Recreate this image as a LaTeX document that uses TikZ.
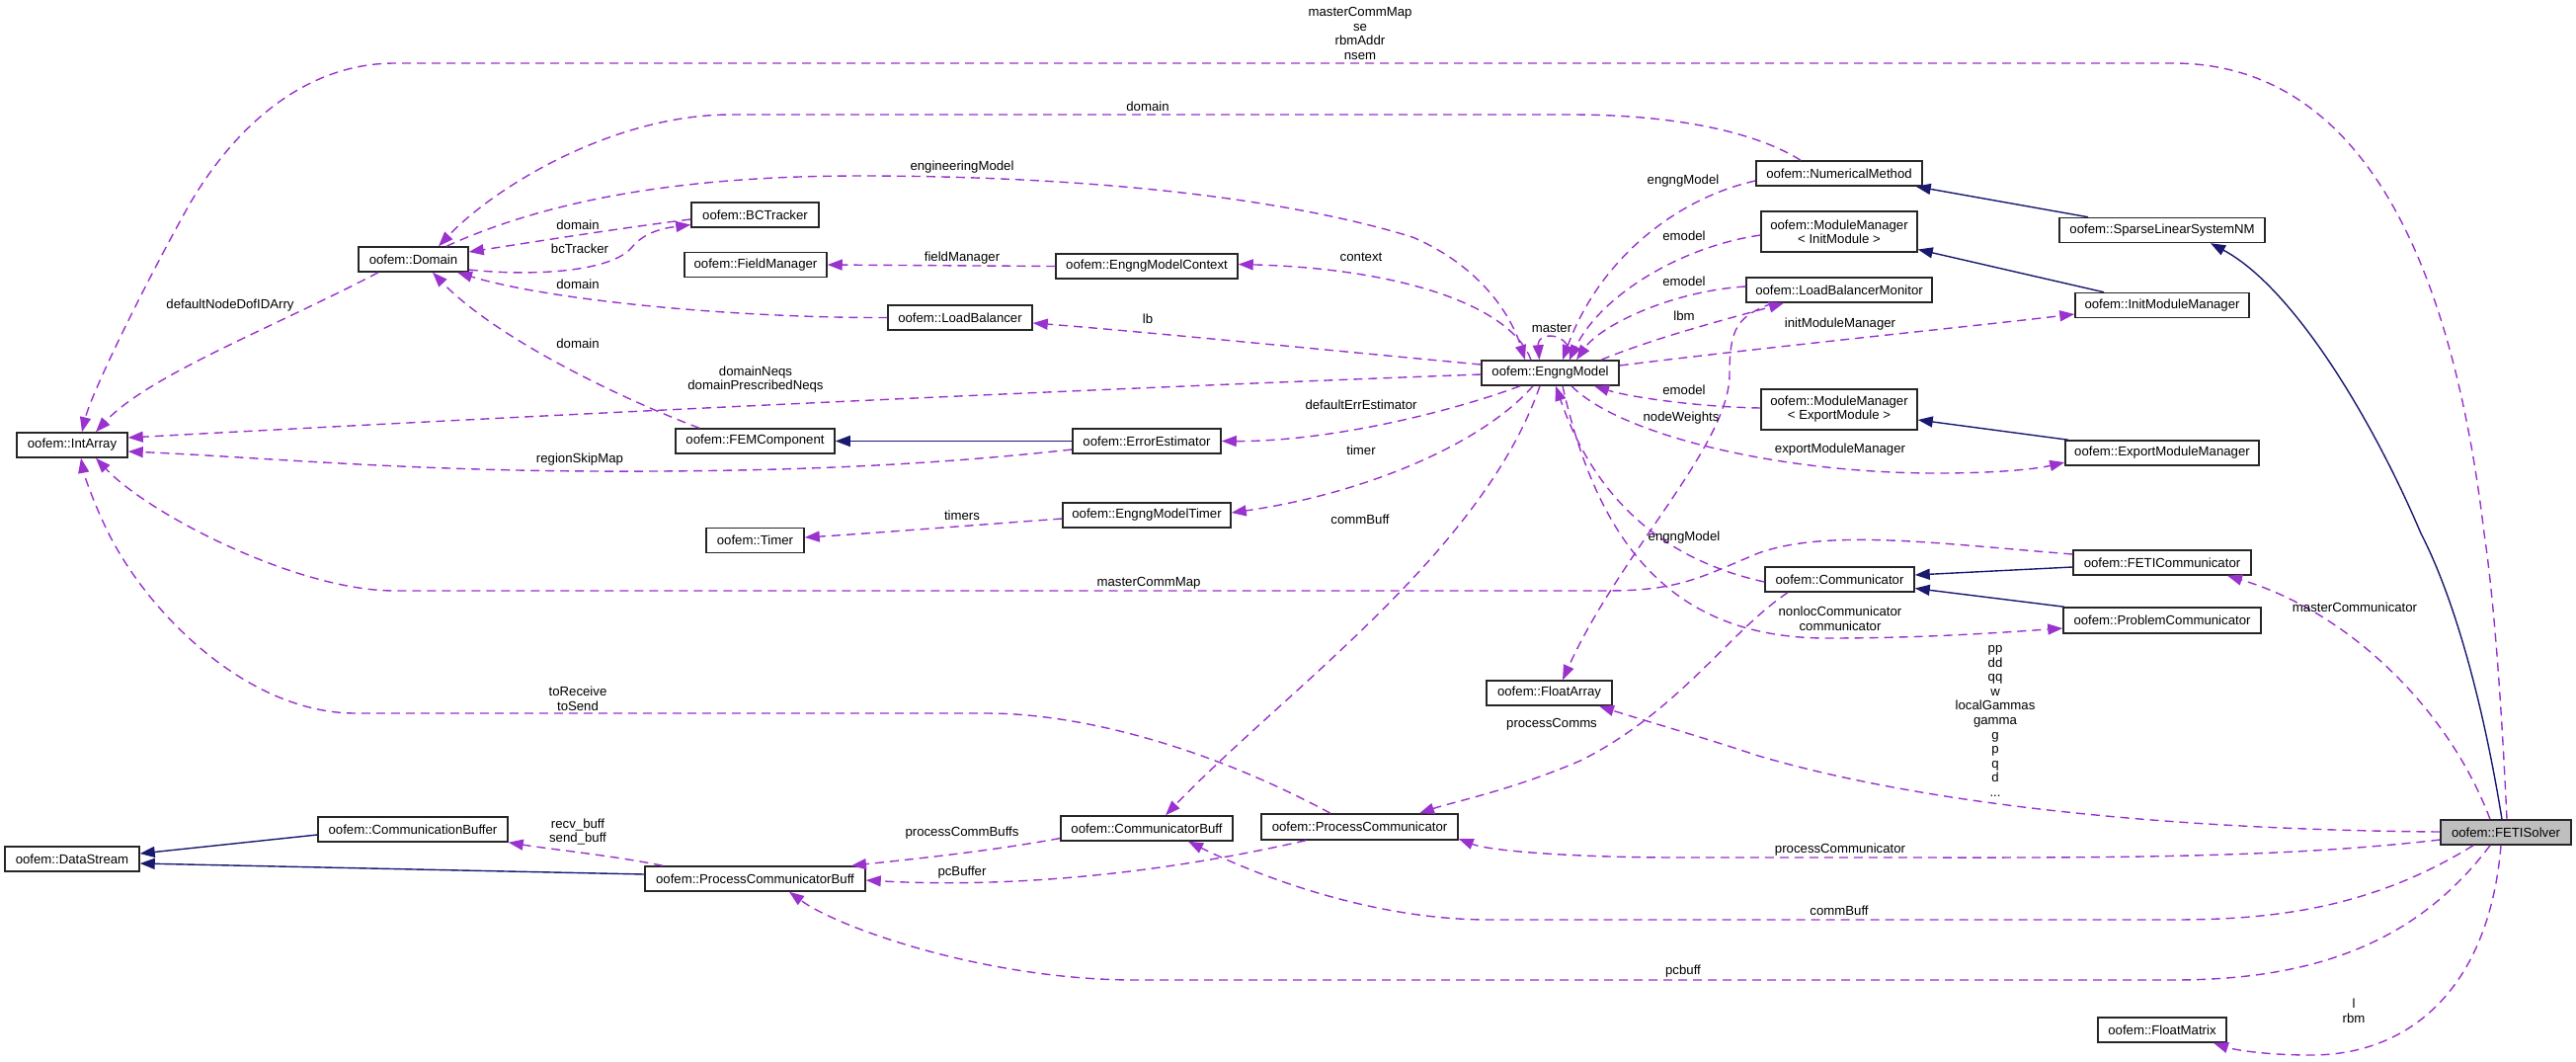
\documentclass[tikz,border=0pt]{standalone}
\usepackage{fontspec}
\setmainfont{Liberation Sans}
\usetikzlibrary{arrows.meta,calc}
\definecolor{depcol}{HTML}{9A32CD}
\definecolor{inhcol}{HTML}{191970}
\begin{document}
\begin{tikzpicture}[x=1pt,y=-1pt,
 cls/.style={draw=black!85,line width=1.5pt,fill=white,font=\fontsize{13.2}{14}\selectfont,inner sep=0pt,minimum height=25pt,align=center},
 lbl/.style={font=\fontsize{13.2}{14.6}\selectfont,inner sep=0pt,align=center},
 use/.style={draw=depcol,line width=1.4pt,dash pattern=on 9pt off 6pt,-{Triangle[length=15pt,width=11pt,fill=depcol]}},
 inhe/.style={draw=inhcol,line width=1.4pt,-{Triangle[length=15pt,width=11pt,fill=inhcol]}}]
\useasboundingbox (0,0) rectangle (2608,1074);

% ---- classes
\node[cls,minimum width=112pt] (IntArray) at (73,450.5) {oofem::IntArray};
\node[cls,minimum width=111pt] (Domain) at (418.5,262.5) {oofem::Domain};
\node[cls,minimum width=129pt] (BCTracker) at (764.5,217.5) {oofem::BCTracker};
\node[cls,minimum width=144pt] (FieldManager) at (765,268) {oofem::FieldManager};
\node[cls,minimum width=161pt] (FEMComponent) at (764.5,446.5) {oofem::FEMComponent};
\node[cls,minimum width=99pt] (Timer) at (764.5,547) {oofem::Timer};
\node[cls,minimum width=184pt] (EMContext) at (1161,269.5) {oofem::EngngModelContext};
\node[cls,minimum width=146pt] (LoadBalancer) at (972,321.5) {oofem::LoadBalancer};
\node[cls,minimum width=139pt] (EngngModel) at (1569.5,377.5) {oofem::EngngModel};
\node[cls,minimum width=150pt] (ErrEst) at (1161,446.5) {oofem::ErrorEstimator};
\node[cls,minimum width=170pt] (EMTimer) at (1161,521.5) {oofem::EngngModelTimer};
\node[cls,minimum width=168pt] (NumMethod) at (1862,175.5) {oofem::NumericalMethod};
\node[cls,minimum width=158pt,minimum height=41pt] (MMInit) at (1862,234.5) {oofem::ModuleManager\\{}< InitModule >};
\node[cls,minimum width=188pt] (LBM) at (1862,293.5) {oofem::LoadBalancerMonitor};
\node[cls,minimum width=208pt] (SLSNM) at (2189,233) {oofem::SparseLinearSystemNM};
\node[cls,minimum width=176pt] (IMM) at (2189,309) {oofem::InitModuleManager};
\node[cls,minimum width=158pt,minimum height=41pt] (MMExport) at (1862,414.5) {oofem::ModuleManager\\{}< ExportModule >};
\node[cls,minimum width=196pt] (EMM) at (2189,458.5) {oofem::ExportModuleManager};
\node[cls,minimum width=192pt] (CommBuffer) at (418,839.5) {oofem::CommunicationBuffer};
\node[cls,minimum width=136pt] (DataStream) at (73,869.5) {oofem::DataStream};
\node[cls,minimum width=223pt] (PCB) at (764.5,889.5) {oofem::ProcessCommunicatorBuff};
\node[cls,minimum width=127pt] (FloatArray) at (1568.5,701.5) {oofem::FloatArray};
\node[cls,minimum width=174pt] (CommBuff) at (1161,838.5) {oofem::CommunicatorBuff};
\node[cls,minimum width=199pt,minimum height=26pt] (ProcComm) at (1376.5,837) {oofem::ProcessCommunicator};
\node[cls,minimum width=180pt] (FETIComm) at (2189,569.5) {oofem::FETICommunicator};
\node[cls,minimum width=151pt] (Comm) at (1862.5,586.5) {oofem::Communicator};
\node[cls,minimum width=200pt,minimum height=26pt] (ProbComm) at (2189,628) {oofem::ProblemCommunicator};
\node[cls,minimum width=132pt,fill=black!25] (FETISolver) at (2537,842.5) {oofem::FETISolver};
\node[cls,minimum width=130pt] (FloatMatrix) at (2189,1042.5) {oofem::FloatMatrix};

% ---- inheritance
\draw[inhe] ($(FETISolver.north)+(-4,0)$) .. controls (2512,700) and (2482,600) .. (2451,540) .. controls (2400,420) and (2320,290) .. ($(SLSNM.south)+(49,0)$);
\draw[inhe] ($(SLSNM.north)+(-75,0)$) -- ($(NumMethod.south east)+(-7,0)$);
\draw[inhe] ($(IMM.north)+(-59,0)$) -- ($(MMInit.east)+(0,18)$);
\draw[inhe] ($(EMM.north)+(-95,0)$) -- ($(MMExport.east)+(0,10.5)$);
\draw[inhe] ($(FETIComm.west)+(0,4.5)$) -- ($(Comm.east)+(0,-4.5)$);
\draw[inhe] ($(ProbComm.north)+(-99,0)$) -- ($(Comm.east)+(0,9)$);
\draw[inhe] (ErrEst.west) -- (FEMComponent.east);
\draw[inhe] ($(CommBuffer.west)+(0,5.5)$) -- ($(DataStream.east)+(0,-5.5)$);
\draw[inhe] ($(PCB.west)+(0,-4.5)$) -- ($(DataStream.east)+(0,4.5)$);

% ---- usage
% masterCommMap se rbmAddr nsem
\draw[use] ($(FETISolver.north)+(1,0)$) .. controls (2532,700) and (2524,600) .. (2515,540) .. controls (2490,330) and (2420,64) .. (2200,64) -- (400,64) .. controls (300,64) and (230,140) .. (190,210) .. controls (140,300) and (92,400) .. ($(IntArray.north)+(10,0)$);
% domain (NumericalMethod)
\draw[use] ($(NumMethod.north)+(-39,0)$) .. controls (1780,135) and (1700,116) .. (1590,116) -- (740,116) .. controls (620,116) and (500,190) .. ($(Domain.north)+(25.5,0)$);
% engineeringModel
\draw[use] ($(Domain.north)+(33.5,0)$) .. controls (560,200) and (700,178) .. (870,178) .. controls (1100,178) and (1300,200) .. (1430,240) .. controls (1500,270) and (1530,320) .. ($(EngngModel.north)+(-25.5,0)$);
% engngModel (NumericalMethod)
\draw[use] ($(NumMethod.west)+(0,7.5)$) .. controls (1700,200) and (1620,260) .. ($(EngngModel.north)+(12.5,0)$);
% emodel (MMInit)
\draw[use] ($(MMInit.west)+(0,3.5)$) .. controls (1700,250) and (1620,300) .. ($(EngngModel.north)+(19.5,0)$);
% emodel (LBM)
\draw[use] ($(LBM.west)+(0,-3.5)$) .. controls (1690,295) and (1620,330) .. ($(EngngModel.north)+(26.5,0)$);
% lbm
\draw[use] ($(EngngModel.north)+(51.5,0)$) .. controls (1680,340) and (1760,320) .. ($(LBM.south)+(-56,0)$);
% initModuleManager
\draw[use] ($(EngngModel.east)+(0,-7.5)$) .. controls (1800,350) and (2000,330) .. ($(IMM.west)+(0,9)$);
% emodel (MMExport)
\draw[use] ($(MMExport.west)+(0,-1.5)$) .. controls (1720,412) and (1650,402) .. ($(EngngModel.south)+(44.5,0)$);
% exportModuleManager
\draw[use] ($(EngngModel.south)+(21.5,0)$) .. controls (1640,440) and (1800,479) .. (1961,479) .. controls (2020,479) and (2060,475) .. ($(EMM.west)+(0,9.5)$);
% nodeWeights
\draw[use] ($(LBM.south)+(-67,0)$) .. controls (1760,320) and (1751,330) .. (1751,379) .. controls (1751,450) and (1640,560) .. ($(FloatArray.north)+(13.5,0)$);
% master
\draw[use] ($(EngngModel.north)+(20,0)$) .. controls (1592,335) and (1556,335) .. ($(EngngModel.north)+(-11,0)$);
% context
\draw[use] ($(EngngModel.north)+(-19.5,0)$) .. controls (1530,310) and (1420,272) .. ($(EMContext.east)+(0,-2)$);
% lb
\draw[use] ($(EngngModel.west)+(0,-8.5)$) .. controls (1350,355) and (1150,335) .. ($(LoadBalancer.east)+(0,5.5)$);
% domainNeqs
\draw[use] ($(EngngModel.west)+(0,1.5)$) .. controls (1200,390) and (700,412) .. ($(IntArray.east)+(0,-7.5)$);
% defaultErrEstimator
\draw[use] ($(EngngModel.south)+(-30.5,0)$) .. controls (1460,420) and (1340,447) .. (ErrEst.east);
% timer
\draw[use] ($(EngngModel.south)+(-17.5,0)$) .. controls (1500,450) and (1380,500) .. ($(EMTimer.east)+(0,-2.5)$);
% commBuff (EngngModel)
\draw[use] ($(EngngModel.south)+(-10.5,0)$) .. controls (1500,560) and (1300,700) .. ($(CommBuff.north)+(19,0)$);
% engngModel (Communicator)
\draw[use] ($(Comm.west)+(0,2.5)$) .. controls (1700,570) and (1620,520) .. ($(EngngModel.south)+(5.5,0)$);
% nonlocCommunicator communicator
\draw[use] ($(EngngModel.south)+(12.5,0)$) .. controls (1620,560) and (1700,646) .. (1850,646) .. controls (1950,646) and (2030,640) .. ($(ProbComm.west)+(0,8)$);
% domain (BCTracker)
\draw[use] ($(BCTracker.west)+(0,4.5)$) .. controls (620,232) and (540,245) .. ($(Domain.east)+(0,-7.5)$);
% bcTracker
\draw[use] ($(Domain.east)+(0,10.5)$) .. controls (540,280) and (620,275) .. (640,250) .. controls (655,232) and (680,230) .. ($(BCTracker.west)+(0,10)$);
% domain (LoadBalancer)
\draw[use] (LoadBalancer.west) .. controls (750,322) and (560,305) .. ($(Domain.south)+(44.5,0)$);
% domain (FEMComponent)
\draw[use] ($(FEMComponent.north)+(-56.5,0)$) .. controls (620,400) and (500,340) .. ($(Domain.south)+(19.5,0)$);
% defaultNodeDofIDArry
\draw[use] ($(Domain.south)+(-35.5,0)$) .. controls (280,330) and (150,380) .. ($(IntArray.north)+(24,0)$);
% fieldManager
\draw[use] (EMContext.west) -- (FieldManager.east);
% regionSkipMap
\draw[use] ($(ErrEst.west)+(0,8.5)$) .. controls (950,470) and (800,478) .. (600,477) .. controls (400,476) and (250,462) .. ($(IntArray.east)+(0,6.5)$);
% timers
\draw[use] ($(EMTimer.west)+(0,3.5)$) .. controls (980,532) and (880,540) .. ($(Timer.east)+(0,-3)$);
% masterCommMap (FETICommunicator)
\draw[use] ($(FETIComm.west)+(0,-8.5)$) .. controls (1960,550) and (1850,535) .. (1780,560) .. controls (1720,585) and (1700,598) .. (1625,598) -- (400,598) .. controls (300,598) and (150,520) .. ($(IntArray.south)+(24,0)$);
% toReceive toSend
\draw[use] ($(ProcComm.north)+(-29.5,0)$) .. controls (1230,760) and (1100,722) .. (998,722) -- (360,722) .. controls (250,722) and (150,620) .. (110,540) .. controls (95,510) and (85,480) .. ($(IntArray.south)+(9,0)$);
% processComms
\draw[use] ($(Comm.south)+(-52.5,0)$) .. controls (1750,640) and (1700,720) .. (1600,770) .. controls (1530,800) and (1470,812) .. ($(ProcComm.north)+(60.5,0)$);
% masterCommunicator
\draw[use] ($(FETISolver.north)+(-16,0)$) .. controls (2480,720) and (2380,620) .. ($(FETIComm.south)+(66,0)$);
% pp dd qq ...
\draw[use] ($(FETISolver.west)+(0,-0.5)$) .. controls (2200,840) and (1950,815) .. (1780,765) .. controls (1720,745) and (1660,728) .. ($(FloatArray.south)+(50.5,0)$);
% processCommunicator
\draw[use] ($(FETISolver.west)+(0,7.5)$) .. controls (2300,870) and (2100,868) .. (1900,868) -- (1700,868) .. controls (1600,868) and (1510,862) .. ($(ProcComm.east)+(0,12)$);
% commBuff (FETISolver)
\draw[use] ($(FETISolver.south)+(-33,0)$) .. controls (2400,920) and (2300,931) .. (2200,931) -- (1508,931) .. controls (1380,931) and (1260,880) .. ($(CommBuff.south)+(42,0)$);
% pcbuff
\draw[use] ($(FETISolver.south)+(-16,0)$) .. controls (2450,950) and (2350,992) .. (2200,992) -- (1150,992) .. controls (1000,992) and (850,940) .. ($(PCB.south)+(34.5,0)$);
% l rbm
\draw[use] ($(FETISolver.south)+(-5,0)$) .. controls (2520,1000) and (2440,1068) .. (2340,1068) .. controls (2290,1068) and (2260,1062) .. ($(FloatMatrix.south)+(52,0)$);
% processCommBuffs
\draw[use] ($(CommBuff.west)+(0,10)$) .. controls (1000,862) and (920,870) .. ($(PCB.north)+(97.5,0)$);
% pcBuffer
\draw[use] ($(ProcComm.south)+(-54.5,0)$) .. controls (1150,890) and (1000,898) .. ($(PCB.east)+(0,1.5)$);
% recv_buff send_buff
\draw[use] ($(PCB.north)+(-93.5,0)$) .. controls (620,866) and (560,860) .. (CommBuffer.south east);

% ---- labels
\node[lbl] (t1) at (1377,34) {masterCommMap\\se\\rbmAddr\\nsem};
\node[lbl] (t2) at (1162,108) {domain};
\node[lbl] (t3) at (974,169) {engineeringModel};
\node[lbl] (t4) at (1704,183) {engngModel};
\node[lbl] (t5) at (1705,239) {emodel};
\node[lbl] (t6) at (1705,285) {emodel};
\node[lbl] (t7) at (1705,320) {lbm};
\node[lbl] (t8) at (1705,395) {emodel};
\node[lbl] (t9) at (1702,423) {nodeWeights};
\node[lbl] (t10) at (1863,328) {initModuleManager};
\node[lbl] (t11) at (1863,455) {exportModuleManager};
\node[lbl] (t12) at (1378,260) {context};
\node[lbl] (t13) at (974,261) {fieldManager};
\node[lbl] (t14) at (1162,323) {lb};
\node[lbl] (t15) at (1571,332) {master};
\node[lbl] (t16) at (585,228) {domain};
\node[lbl] (t17) at (587,252) {bcTracker};
\node[lbl] (t18) at (585,288) {domain};
\node[lbl] (t19) at (585,348) {domain};
\node[lbl] (t20) at (233,309) {defaultNodeDofIDArry};
\node[lbl] (t21) at (765,384) {domainNeqs\\domainPrescribedNeqs};
\node[lbl] (t22) at (1378,410) {defaultErrEstimator};
\node[lbl] (t23) at (1378,456) {timer};
\node[lbl] (t24) at (587,465) {regionSkipMap};
\node[lbl] (t25) at (974,522) {timers};
\node[lbl] (t26) at (1377,526) {commBuff};
\node[lbl] (t27) at (1163,590) {masterCommMap};
\node[lbl] (t28) at (1705,544) {engngModel};
\node[lbl] (t29) at (1863,626) {nonlocCommunicator\\communicator};
\node[lbl] (t30) at (2384,615) {masterCommunicator};
\node[lbl] (t31) at (1571,733) {processComms};
\node[lbl] (t32) at (585,707.5) {toReceive\\toSend};
\node[lbl] (t33) at (2020,730) {pp\\dd\\qq\\w\\localGammas\\gamma\\g\\p\\q\\d\\...};
\node[lbl] (t34) at (585,842) {recv\_buff\\send\_buff};
\node[lbl] (t35) at (974,843) {processCommBuffs};
\node[lbl] (t36) at (974,883) {pcBuffer};
\node[lbl] (t37) at (1863,860) {processCommunicator};
\node[lbl] (t38) at (1862,922) {commBuff};
\node[lbl] (t39) at (1704,983) {pcbuff};
\node[lbl] (t40) at (2383,1023) {l\\rbm};
\end{tikzpicture}
\end{document}
